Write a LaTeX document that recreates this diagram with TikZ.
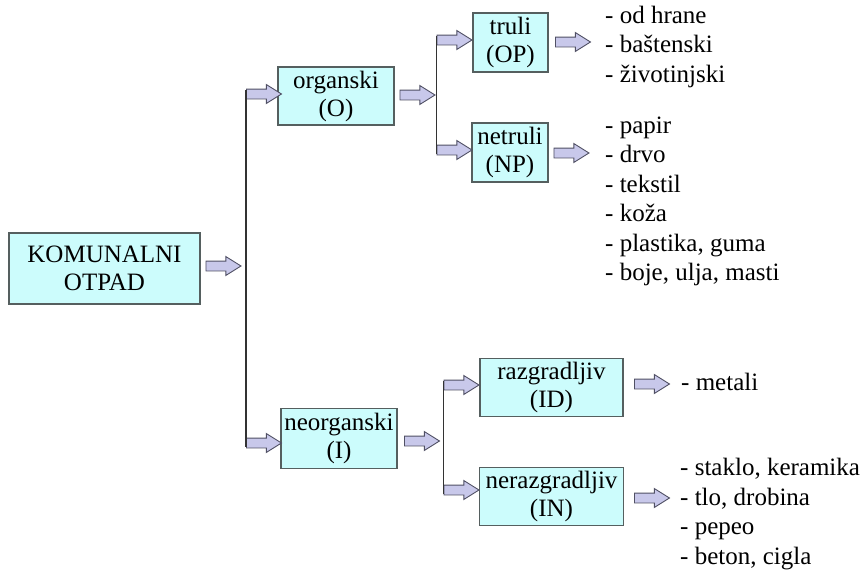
\documentclass[tikz,border=0pt]{standalone}
\usepackage{fontspec}
\setmainfont{Liberation Serif}
\usetikzlibrary{shapes.arrows}
\definecolor{boxfill}{RGB}{204,252,252}
\definecolor{boxline}{RGB}{85,95,95}
\definecolor{arrfill}{RGB}{200,200,234}
\definecolor{arrline}{RGB}{80,80,100}

\begin{document}
\begin{tikzpicture}[x = 1pt, y = -1pt,
        every node/.style={font=\fontsize{25}{29.5}\selectfont, inner sep=0pt},
        box/.style={draw=boxline, fill=boxfill, align=center, line width=1.2pt,
            font=\fontsize{25}{28}\selectfont},
        blockarrow/.style={single arrow, draw=arrline, fill=arrfill, line width=0.9pt,
            minimum height=35pt, inner ysep=4.5pt, single arrow head extend=4.5pt,
            single arrow tip angle=64},
        items/.style={align=left, anchor=base west},
        bracket/.style={draw=black!80, line width=1.1pt}
]
    \useasboundingbox (0,0) rectangle (862,571);

    % boxes
    \node[box, minimum width=191pt, minimum height=71pt] (kom) at (104.5,268.5) {KOMUNALNI\\OTPAD};
    \node[box, minimum width=116pt, minimum height=58pt] (org) at (336,96) {organski\\(O)};
    \node[box, minimum width=116pt, minimum height=60pt] (neo) at (339,438.5) {neorganski\\(I)};
    \node[box, minimum width=75pt, minimum height=59pt] (tru) at (510.5,42.5) {truli\\(OP)};
    \node[box, minimum width=76pt, minimum height=59pt] (net) at (510,152.5) {netruli\\(NP)};
    \node[box, minimum width=143pt, minimum height=58pt] (raz) at (551.5,387.5) {razgradljiv\\(ID)};
    \node[box, minimum width=144pt, minimum height=58pt] (ner) at (551.5,496.5) {nerazgradljiv\\(IN)};

    % block arrows
    \node[blockarrow] (akom) at (219.5,266) {};
    \node[blockarrow] (aorg) at (260,94) {};
    \node[blockarrow] (aneo) at (260,443) {};
    \node[blockarrow] (aorgout) at (413.5,95) {};
    \node[blockarrow] (atru) at (450.5,40) {};
    \node[blockarrow] (anet) at (450.5,150) {};
    \node[blockarrow] (aneoout) at (418,441) {};
    \node[blockarrow] (araz) at (457.5,385) {};
    \node[blockarrow] (aner) at (457.5,490) {};
    \node[blockarrow] (atruout) at (569,42) {};
    \node[blockarrow] (anetout) at (567.5,153) {};
    \node[blockarrow] (arazout) at (648,384) {};
    \node[blockarrow] (anerout) at (648,498) {};

    % branch lines
    \draw[bracket] ([yshift=4pt]aorg.tail) -- ([yshift=-4pt]aneo.tail);
    \draw[bracket] ([yshift=4pt]atru.tail) -- ([yshift=-4pt]anet.tail);
    \draw[bracket] ([yshift=4pt]araz.tail) -- ([yshift=-4pt]aner.tail);

    % lists (anchored at the last line)
    \node[items] (ltru) at (605,82) {- od hrane\\- baštenski\\- životinjski};
    \node[items] (lnet) at (605,280.5) {- papir\\- drvo\\- tekstil\\- koža\\- plastika, guma\\- boje, ulja, masti};
    \node[items] (lraz) at (681,390) {- metali};
    \node[items] (lner) at (680,564) {- staklo, keramika\\- tlo, drobina\\- pepeo\\- beton, cigla};

\end{tikzpicture}
\end{document}
